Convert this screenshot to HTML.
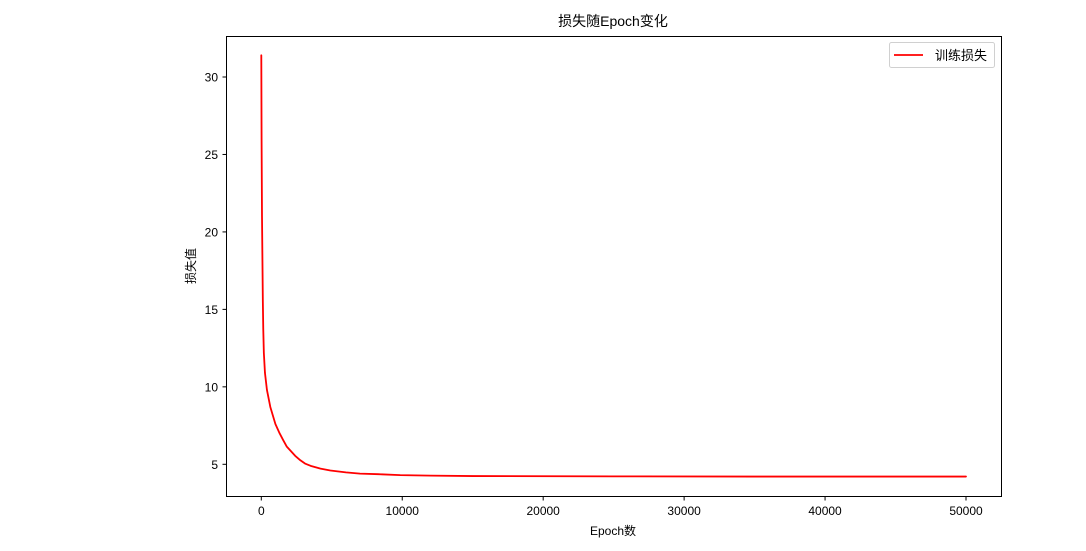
<!DOCTYPE html>
<html><head><meta charset="utf-8">
<style>
body{margin:0;background:#fff;}
svg text{font-family:"Liberation Sans","Noto Sans CJK SC",sans-serif;fill:#000;}
</style></head>
<body>
<svg width="1086" height="546" viewBox="0 0 1086 546">
<rect x="0" y="0" width="1086" height="546" fill="#fff"/>
<text x="613" y="26" font-size="14" text-anchor="middle">损失随Epoch变化</text>
<g id="xticks"></g>
<g id="yticks"></g>
<polyline id="line" fill="none" stroke="#ff0000" stroke-width="1.8" stroke-linejoin="round" stroke-linecap="round"/>
<rect x="226.5" y="36.5" width="775" height="460" fill="none" stroke="#000" stroke-width="1"/>
<text x="613" y="535" font-size="12" text-anchor="middle">Epoch数</text>
<text transform="translate(195,266) rotate(-90)" font-size="12" text-anchor="middle">损失值</text>
<g>
<rect x="889.5" y="42.5" width="105" height="25" rx="2" fill="#fff" stroke="#d0d0d0"/>
<line x1="894" y1="55" x2="923" y2="55" stroke="#ff0000" stroke-width="1.8"/>
<text x="935" y="60" font-size="13">训练损失</text>
</g>
</svg>
<script>
const epochs=[0,20,50,80,110,140,180,260,400,640,1000,1300,1560,1800,2100,2400,2770,3100,3500,4200,4900,6000,7000,8300,9860,12000,15000,25000,35000,50000];
const losses=[31.4,26,21,18.2,15.5,13.7,12.2,10.9,9.8,8.7,7.6,7.0,6.55,6.15,5.85,5.55,5.26,5.05,4.9,4.72,4.6,4.48,4.4,4.36,4.3,4.27,4.24,4.22,4.21,4.21];
const xTicks=[0,10000,20000,30000,40000,50000];
const yTicks=[5,10,15,20,25,30];
const X=v=>261.3+v*(966-261.3)/50000;
const Y=v=>464.3-(v-5)*(464.3-77)/25;
const ns="http://www.w3.org/2000/svg";
const line=document.getElementById('line');
line.setAttribute('points',epochs.map((e,i)=>X(e).toFixed(2)+','+Y(losses[i]).toFixed(2)).join(' '));
const xg=document.getElementById('xticks'),yg=document.getElementById('yticks');
xTicks.forEach(t=>{
 const l=document.createElementNS(ns,'line');
 l.setAttribute('x1',X(t));l.setAttribute('x2',X(t));l.setAttribute('y1',497);l.setAttribute('y2',500.5);l.setAttribute('stroke','#000');
 
 
 xg.appendChild(l);
 const tx=document.createElementNS(ns,'text');
 tx.setAttribute('x',X(t));tx.setAttribute('y',515);tx.setAttribute('font-size','12');tx.setAttribute('text-anchor','middle');
 tx.textContent=t;
 
 
 xg.appendChild(tx);
});
yTicks.forEach(t=>{
 const l=document.createElementNS(ns,'line');
 l.setAttribute('x1',222.5);l.setAttribute('x2',226.5);l.setAttribute('y1',Y(t));l.setAttribute('y2',Y(t));l.setAttribute('stroke','#000');
 
 
 yg.appendChild(l);
 const tx=document.createElementNS(ns,'text');
 tx.setAttribute('x',218);tx.setAttribute('y',Y(t)+4.5);tx.setAttribute('font-size','12');tx.setAttribute('text-anchor','end');
 tx.textContent=t;
 
 
 yg.appendChild(tx);
});
</script>
</body></html>
